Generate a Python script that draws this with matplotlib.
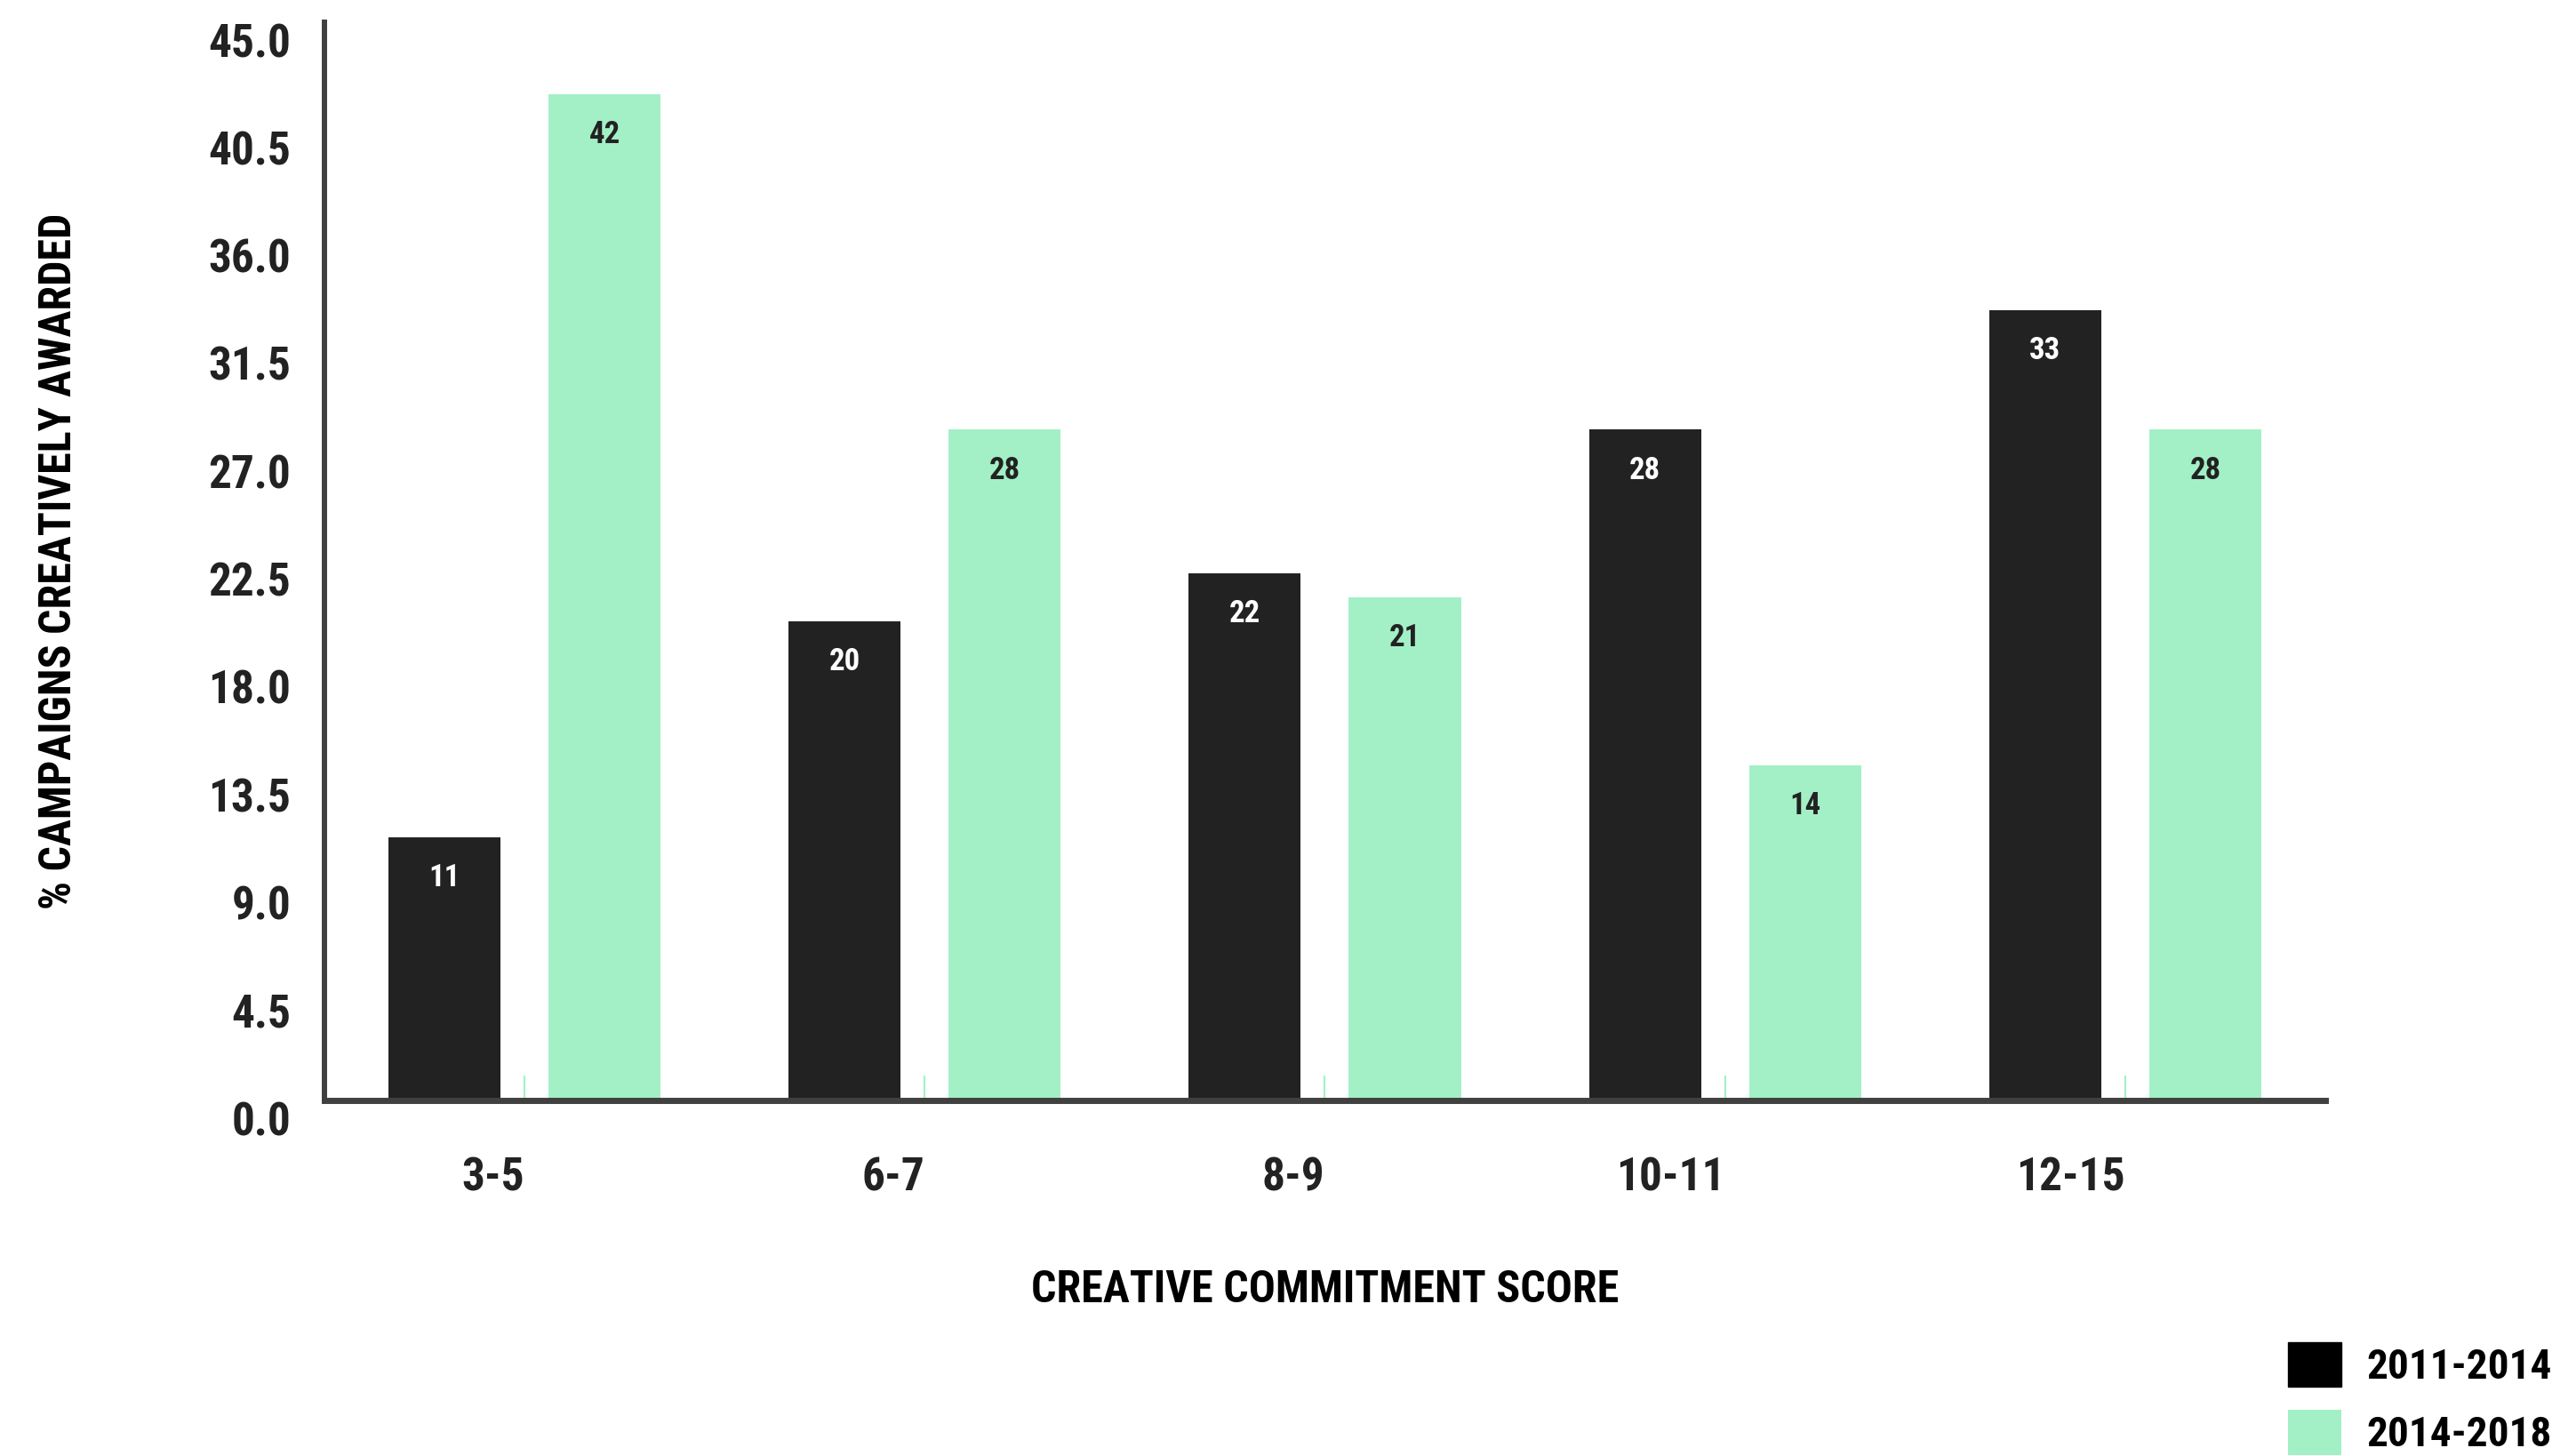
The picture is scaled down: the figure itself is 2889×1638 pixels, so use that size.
import numpy as np
import matplotlib.pyplot as plt
from matplotlib import font_manager

# condensed bold font if there is one
names = {f.name for f in font_manager.fontManager.ttflist}
fam = 'DejaVu Sans'
for cand in ['Liberation Sans Narrow', 'Roboto Condensed', 'Open Sans Condensed',
             'Noto Sans Condensed', 'DejaVu Sans Condensed']:
    if cand in names:
        fam = cand
        break
plt.rcParams['font.family'] = [fam, 'DejaVu Sans']
plt.rcParams['font.weight'] = 'bold'
plt.rcParams['font.stretch'] = 'condensed'

categories = ['3-5', '6-7', '8-9', '10-11', '12-15']
early = [11, 20, 22, 28, 33]
late = [42, 28, 21, 14, 28]
yticks = [0.0, 4.5, 9.0, 13.5, 18.0, 22.5, 27.0, 31.5, 36.0, 40.5, 45.0]

c_dark = '#222222'
c_green = '#a3f0c6'

fig = plt.figure(figsize=(28.89, 16.38), dpi=100)
ax = fig.add_axes([0.1263, 0.2442, 0.9055 - 0.1263, 0.9847 - 0.2442])

x = np.arange(len(categories))
w = 0.28
b1 = ax.bar(x - 0.2, early, w, color=c_dark, label='2011-2014')
b2 = ax.bar(x + 0.2, late, w, color=c_green, label='2014-2018')

for bars, col in ((b1, 'white'), (b2, c_dark)):
    for r in bars:
        ax.annotate(f'{r.get_height():.0f}', (r.get_x() + r.get_width() / 2, r.get_height()),
                    xytext=(0, -33), textcoords='offset points', ha='center', va='center',
                    fontsize=25, fontweight='bold', color=col)

ax.set_xlim(-0.5, 4.5)
ax.set_ylim(0, 45)
ax.set_xticks(x)
ax.set_xticklabels(categories, ha='right')
ax.set_yticks(yticks)
ax.set_yticklabels([f'{v:.1f}' for v in yticks], va='top')

ax.tick_params(axis='x', direction='in', length=20, width=1.5, color=c_green,
               pad=45, labelsize=37, labelcolor=c_dark)
ax.tick_params(axis='y', length=0, pad=27, labelsize=37, labelcolor=c_dark)

for s in ('top', 'right'):
    ax.spines[s].set_visible(False)
ax.spines['left'].set_linewidth(4.3)
ax.spines['bottom'].set_linewidth(5)
ax.spines['left'].set_color('#404040')
ax.spines['bottom'].set_color('#404040')

ax.set_xlabel('CREATIVE COMMITMENT SCORE', fontsize=36, fontweight='bold', labelpad=56)
ax.set_ylabel('% CAMPAIGNS CREATIVELY AWARDED', fontsize=36, fontweight='bold', labelpad=104)

fig.legend(handles=[b1, b2], loc='upper left', bbox_to_anchor=(2550 / 2889, 1 - 1486 / 1638),
           frameon=False, fontsize=34, handlelength=1.27, handleheight=1.27,
           labelspacing=0.55, handletextpad=0.6, borderpad=0)
leg = fig.legends[0]
leg.legend_handles[0].set_color('black')

fig.savefig('out.png', dpi=100)
